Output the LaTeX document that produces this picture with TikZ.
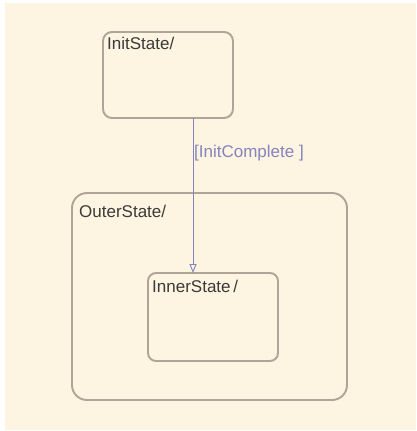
\documentclass[tikz,border=0pt]{standalone}
\usepackage{fontspec}
\setmainfont{Liberation Sans}
\usetikzlibrary{arrows.meta}
\definecolor{bgc}{HTML}{FDF4E1}
\definecolor{boxc}{HTML}{ADA595}
\definecolor{txtc}{HTML}{3C3A38}
\definecolor{trc}{HTML}{8585BE}
\begin{document}
\begin{tikzpicture}[x=1pt,y=-1pt,
  statebox/.style={draw=boxc,line width=1.9pt,fill=none},
  statelbl/.style={anchor=north west,inner sep=0pt,text=txtc,font=\fontsize{17}{19}\selectfont},
  trans/.style={draw=trc,line width=0.9pt,-{Triangle[open,length=9pt,width=7pt,line width=0.9pt]}}]
\useasboundingbox (0,0) rectangle (416,431);
\fill[white] (0,0) rectangle (416,431);
\fill[bgc] (5,3) rectangle (416,430);
% outer state
\draw[statebox,rounded corners=15pt] (72,193) rectangle (347,400);
\node[statelbl] (outerlbl) at (79,205) {OuterState/};
% init state
\draw[statebox,rounded corners=9pt] (103,32) rectangle (233,118);
\node[statelbl] (initlbl) at (107,37) {InitState/};
% inner state
\draw[statebox,rounded corners=8pt] (148,273) rectangle (278,361);
\node[statelbl] (innerlbl) at (152,280) {InnerState\,/};
% transition
\coordinate (tsrc) at (193,118);
\coordinate (tdst) at (193,273);
\draw[trans] (tsrc) -- (tdst);
\node[anchor=west,inner sep=0pt,text=trc,font=\fontsize{17}{19}\selectfont] (tlbl) at (194,153) {[InitComplete ]};
\end{tikzpicture}
\end{document}
